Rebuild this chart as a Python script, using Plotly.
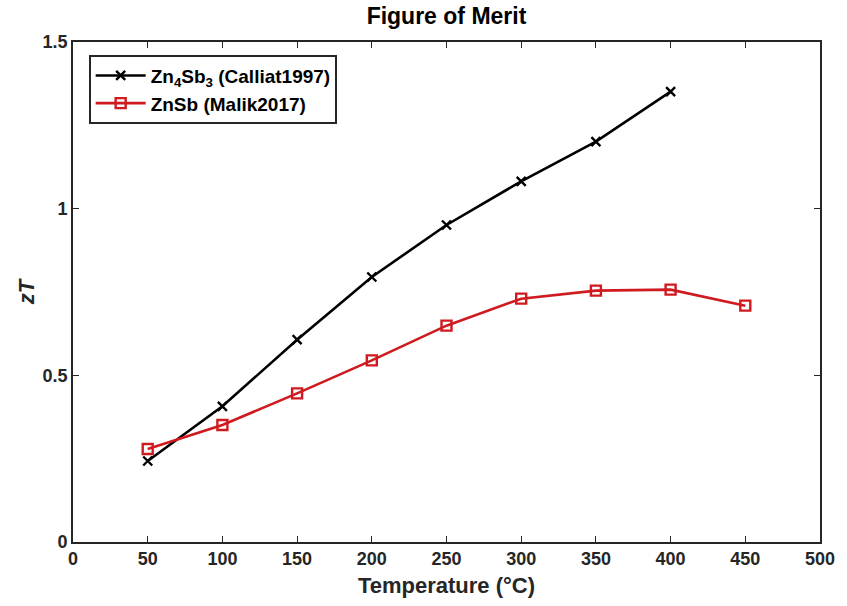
import plotly.graph_objects as go

# Temperature (°C) and figure of merit zT for the two materials
temp_zn4sb3 = [50, 100, 150, 200, 250, 300, 350, 400]
zt_zn4sb3 = [0.243, 0.407, 0.607, 0.795, 0.951, 1.082, 1.201, 1.351]

temp_znsb = [50, 100, 150, 200, 250, 300, 350, 400, 450]
zt_znsb = [0.279, 0.351, 0.446, 0.545, 0.649, 0.730, 0.754, 0.757, 0.709]

x_ticks = [0, 50, 100, 150, 200, 250, 300, 350, 400, 450, 500]
y_ticks = [0, 0.5, 1, 1.5]
y_tick_labels = ["0", "0.5", "1", "1.5"]

FONT = "Liberation Sans, Arial, Helvetica, sans-serif"
AX = "#262626"
RED = "#cf1b20"

fig = go.Figure()
fig.add_trace(go.Scatter(
    x=temp_zn4sb3, y=zt_zn4sb3, mode="lines+markers",
    name="Zn<sub>4</sub>Sb<sub>3</sub> (Calliat1997)",
    line=dict(color="black", width=2.6),
    marker=dict(symbol="x-thin", size=9, line=dict(color="black", width=2.4)),
))
fig.add_trace(go.Scatter(
    x=temp_znsb, y=zt_znsb, mode="lines+markers",
    name="ZnSb (Malik2017)",
    line=dict(color=RED, width=2.6),
    marker=dict(symbol="square-open", size=10, color=RED, line=dict(color=RED, width=2.4)),
))

axis_common = dict(
    showline=True, linecolor=AX, linewidth=1.6, mirror="allticks",
    ticks="inside", ticklen=6, tickwidth=1.4, tickcolor=AX,
    showgrid=False, zeroline=False,
    tickfont=dict(family=FONT, size=18, color="#262626", weight="bold"),
)

fig.update_layout(
    width=847, height=606,
    margin=dict(l=72.5, r=18.5, t=42, b=61.5),
    paper_bgcolor="white", plot_bgcolor="white",
    font=dict(family=FONT, color="black"),
    title=dict(text="Figure of Merit", x=0.5, xanchor="center", xref="paper",
               y=1, yref="container", yanchor="top", pad=dict(t=8),
               font=dict(family=FONT, size=23, color="black", weight="bold")),
    xaxis=dict(range=[0, 500], tickvals=x_ticks,
               title=dict(text="Temperature (°C)", standoff=9,
                          font=dict(family=FONT, size=22, color="#262626", weight="bold")),
               **axis_common),
    yaxis=dict(range=[0, 1.5], tickvals=y_ticks, ticktext=y_tick_labels,
               title=dict(text="<i>zT</i>", standoff=2,
                          font=dict(family=FONT, size=22, color="#262626", weight="bold")),
               **axis_common),
    legend=dict(x=0.0215, y=0.974, xanchor="left", yanchor="top",
                bgcolor="white", bordercolor=AX, borderwidth=1.6,
                font=dict(family=FONT, size=19, color="black", weight="bold"),
                tracegroupgap=0, itemwidth=50),
    showlegend=True,
)

fig.write_html("out.html")
